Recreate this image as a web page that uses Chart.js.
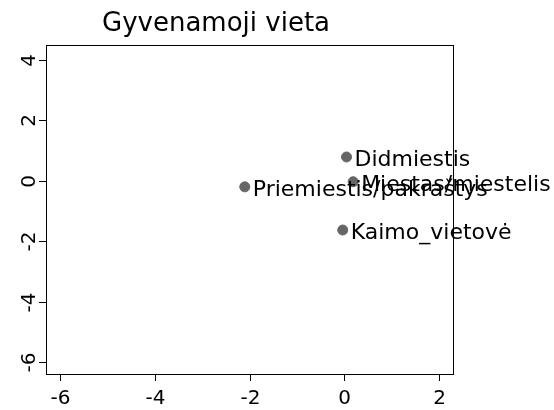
<!DOCTYPE html>
<html><head><meta charset="utf-8">
<script src="https://cdn.jsdelivr.net/npm/chart.js@4"></script>
<style>html,body{margin:0;padding:0;background:#fff}#c{display:block}</style>
</head><body>
<div style="width:554px;height:410px"><canvas id="c" width="554" height="410"></canvas></div>
<script>
const categories = ["Didmiestis", "Miestas/miestelis", "Priemiestis/pakraštys", "Kaimo_vietovė"];
const xValues = [0.05, 0.19, -2.1, -0.03];
const yValues = [0.79, -0.03, -0.2, -1.63];
const xTicks = [-6, -4, -2, 0, 2];
const yTicks = [-6, -4, -2, 0, 2, 4];
const titleText = "Gyvenamoji vieta";

const FONT = "'DejaVu Sans', sans-serif";

const drawer = {
  id: 'drawer',
  afterDraw(chart) {
    const ctx = chart.ctx;
    const a = chart.chartArea;
    const xs = chart.scales.x, ys = chart.scales.y;
    ctx.save();
    ctx.strokeStyle = '#000';
    ctx.lineWidth = 1;
    ctx.fillStyle = '#000';
    ctx.font = "20px " + FONT;
    // x ticks
    ctx.textAlign = 'center'; ctx.textBaseline = 'alphabetic';
    xTicks.forEach(v => {
      const px = Math.round(xs.getPixelForValue(v)) + 0.5;
      ctx.beginPath(); ctx.moveTo(px, a.bottom); ctx.lineTo(px, a.bottom + 7); ctx.stroke();
      ctx.fillText(String(v), px, a.bottom + 30);
    });
    // y ticks
    yTicks.forEach(v => {
      const py = Math.round(ys.getPixelForValue(v)) + 0.5;
      ctx.beginPath(); ctx.moveTo(a.left, py); ctx.lineTo(a.left - 7, py); ctx.stroke();
      ctx.save();
      ctx.translate(a.left - 11, py);
      ctx.rotate(-Math.PI/2);
      ctx.textAlign = 'center'; ctx.textBaseline = 'alphabetic';
      ctx.fillText(String(v), 0, 0);
      ctx.restore();
    });
    // point labels
    ctx.font = "22px " + FONT;
    ctx.textAlign = 'left'; ctx.textBaseline = 'alphabetic';
    categories.forEach((c, i) => {
      const px = xs.getPixelForValue(xValues[i]);
      const py = ys.getPixelForValue(yValues[i]);
      ctx.fillText(c, px + 8, py + 9);
    });
    // box
    ctx.strokeRect(Math.round(a.left)+0.5, Math.round(a.top)+0.5, Math.round(a.right-a.left), Math.round(a.bottom-a.top));
    // title
    ctx.font = "26px " + FONT;
    ctx.textAlign = 'left'; ctx.textBaseline = 'alphabetic';
    ctx.fillText(titleText, 102, 31);
    ctx.restore();
  }
};

new Chart(document.getElementById('c'), {
  type: 'scatter',
  data: {
    datasets: [{
      data: categories.map((c, i) => ({x: xValues[i], y: yValues[i]})),
      backgroundColor: '#666666',
      borderColor: '#666666',
      pointRadius: 5,
      pointHoverRadius: 5
    }]
  },
  options: {
    responsive: false,
    animation: false,
    devicePixelRatio: 1,
    layout: { padding: { left: 46, right: 101, top: 45, bottom: 36 } },
    plugins: { legend: { display: false }, tooltip: { enabled: false }, title: { display: false } },
    scales: {
      x: { type: 'linear', min: -6.3, max: 2.3, display: false },
      y: { type: 'linear', min: -6.4, max: 4.5, display: false }
    }
  },
  plugins: [drawer]
});
</script>
</body></html>
